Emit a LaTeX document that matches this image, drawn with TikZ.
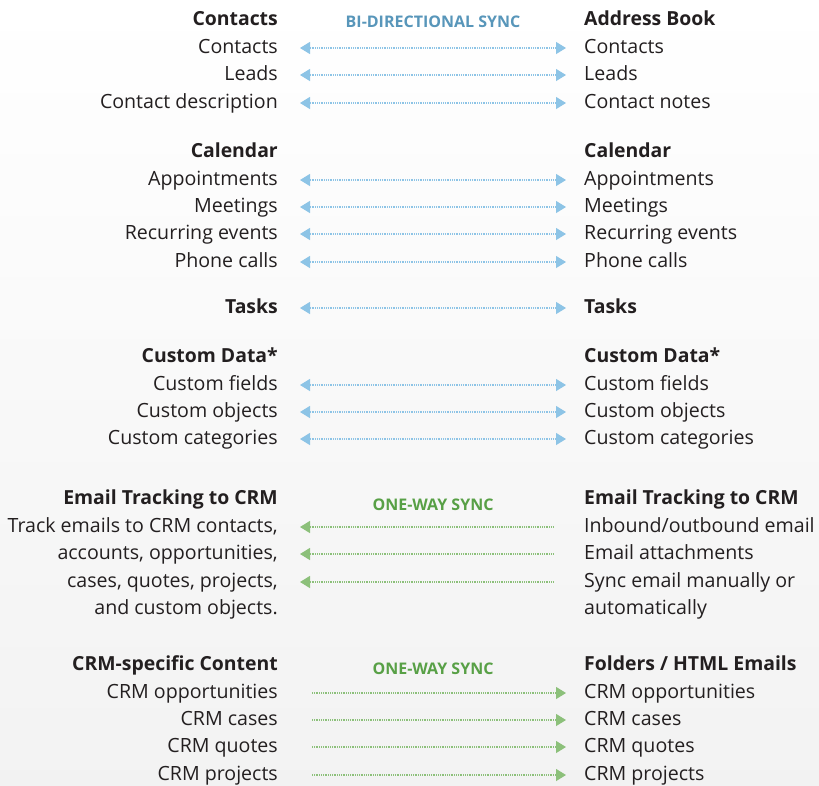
\documentclass[tikz,border=0pt]{standalone}
\usepackage{fontspec}
\setmainfont{Open Sans}
\usetikzlibrary{arrows.meta}
\definecolor{ink}{RGB}{35,31,32}
\definecolor{syncblue}{RGB}{141,196,230}
\definecolor{syncbluetext}{RGB}{88,150,186}
\definecolor{syncgreen}{RGB}{140,192,122}
\definecolor{syncgreentext}{RGB}{88,160,70}

\begin{document}
\begin{tikzpicture}[x=1pt,y=-1pt,>={Triangle[width=12pt,length=10pt]},
    every node/.style={inner sep=0pt,yshift=-2pt,text=ink,font=\fontsize{19.6}{22}\selectfont,text height=14pt,text depth=4pt},
    lft/.style={anchor=east},rgt/.style={anchor=west},
    hd/.style={font=\fontsize{19.4}{22}\selectfont\bfseries},
    tag/.style={font=\fontsize{16}{18}\selectfont\bfseries},
    sync/.style={line width=1.2pt,dash pattern=on 1pt off 0.8pt},
    both/.style={sync,draw=syncblue,<->,shorten <=22pt,shorten >=18pt},
    toleft/.style={sync,draw=syncgreen,<-,shorten <=22pt,shorten >=31pt},
    toright/.style={sync,draw=syncgreen,->,shorten <=34pt,shorten >=18pt}]
    \shade[top color=white,bottom color=black!5] (0,0) rectangle (819,785);
    \useasboundingbox (0,0) rectangle (819,785);
    % contacts
    \node[tag,text=syncbluetext] (bi) at (433,20) {BI-DIRECTIONAL SYNC};
    \node[hd,lft] (lc0) at (278,18) {Contacts};
    \node[hd,rgt] (rc0) at (584,18) {Address Book};
    \foreach \n/\y/\a/\b in {1/46/Contacts/Contacts,2/73/Leads/Leads,3/101/Contact description/Contact notes}{
      \node[lft] (lc\n) at (278,\y) {\a};
      \node[rgt] (rc\n) at (584,\y) {\b};
      \draw[both] (lc\n.east) -- (rc\n.west);
    }
    % calendar
    \node[hd,lft] (lk0) at (278,150) {Calendar};
    \node[hd,rgt] (rk0) at (584,150) {Calendar};
    \foreach \n/\y/\a in {1/178/Appointments,2/205/Meetings,3/232/Recurring events,4/260/Phone calls}{
      \node[lft] (lk\n) at (278,\y) {\a};
      \node[rgt] (rk\n) at (584,\y) {\a};
      \draw[both] (lk\n.east) -- (rk\n.west);
    }
    % tasks
    \node[hd,lft] (lt) at (278,306) {Tasks};
    \node[hd,rgt] (rt) at (584,306) {Tasks};
    \draw[both] (lt.east) -- (rt.west);
    % custom data
    \node[hd,lft] (ld0) at (278,355) {Custom Data*};
    \node[hd,rgt] (rd0) at (584,355) {Custom Data*};
    \foreach \n/\y/\a in {1/383/Custom fields,2/410/Custom objects,3/437/Custom categories}{
      \node[lft] (ld\n) at (278,\y) {\a};
      \node[rgt] (rd\n) at (584,\y) {\a};
      \draw[both] (ld\n.east) -- (rd\n.west);
    }
    % email tracking
    \node[tag,text=syncgreentext] (ow1) at (433,503) {ONE-WAY SYNC};
    \node[hd,lft] (le0) at (278,497) {Email Tracking to CRM};
    \node[hd,rgt] (re0) at (584,497) {Email Tracking to CRM};
    \foreach \n/\y/\a/\b in {1/525/{Track emails to CRM contacts,}/{Inbound/outbound email},
        2/552/{accounts, opportunities,}/{Email attachments},
        3/580/{cases, quotes, projects,}/{Sync email manually or},
        4/607/{and custom objects.}/{automatically}}{
      \node[lft] (le\n) at (278,\y) {\a};
      \node[rgt] (re\n) at (584,\y) {\b};
    }
    \foreach \n in {1,2,3}
      \draw[toleft] (le\n.east) -- (re\n.west);
    % crm content
    \node[tag,text=syncgreentext] (ow2) at (433,667) {ONE-WAY SYNC};
    \node[hd,lft] (lf0) at (278,663) {CRM-specific Content};
    \node[hd,rgt] (rf0) at (584,663) {Folders / HTML Emails};
    \foreach \n/\y/\a in {1/691/CRM opportunities,2/718/CRM cases,3/745/CRM quotes,4/773/CRM projects}{
      \node[lft] (lf\n) at (278,\y) {\a};
      \node[rgt] (rf\n) at (584,\y) {\a};
      \draw[toright] (lf\n.east) -- (rf\n.west);
    }
\end{tikzpicture}
\end{document}
